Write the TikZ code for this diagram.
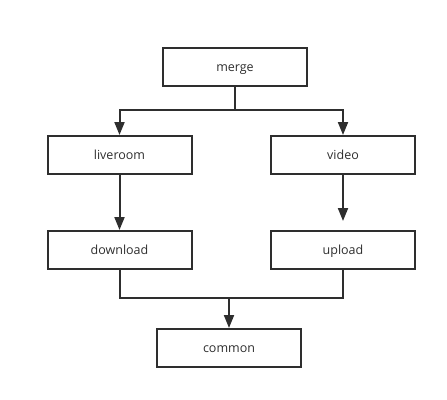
\documentclass[tikz,border=0pt]{standalone}
\usepackage{fontspec}
\setmainfont{Open Sans}
\usetikzlibrary{arrows.meta,positioning}
\definecolor{ink}{HTML}{2E2E2E}
\tikzset{
  modbox/.style={draw=ink,line width=2pt,minimum width=144pt,minimum height=38pt,
                 inner sep=0pt,text height=8pt,text depth=0pt,
                 font=\fontsize{12.5}{15}\selectfont,text=ink},
  flowline/.style={draw=ink,line width=2pt},
  flowarr/.style={flowline,-{Triangle[length=13pt,width=10pt]}}
}
\begin{document}
\begin{tikzpicture}[x=1pt,y=-1pt]
    \path[use as bounding box] (0,0) rectangle (447,399);
    \node[modbox] (merge) at (235,67) {merge};
    \node[modbox] (liveroom) at (119.5,155) {liveroom};
    \node[modbox] (video) at (343,155) {video};
    \node[modbox] (download) at (119.5,250) {download};
    \node[modbox] (upload) at (343,250) {upload};
    \node[modbox] (common) at (229,348) {common};
    \coordinate (split) at (235,110);
    \coordinate (join) at (229,298);
    % fan out from merge
    \draw[flowline] (merge) -- (split);
    \draw[flowarr] (split) -| (liveroom);
    \draw[flowarr] (split) -| (video);
    \draw[flowarr] (liveroom) -- (download);
    \draw[flowarr,shorten >=9pt] (video) -- (upload);
    % gather into common
    \draw[flowline] (download) |- (join);
    \draw[flowline] (upload) |- (join);
    \draw[flowarr] (join) -- (common);
\end{tikzpicture}
\end{document}
